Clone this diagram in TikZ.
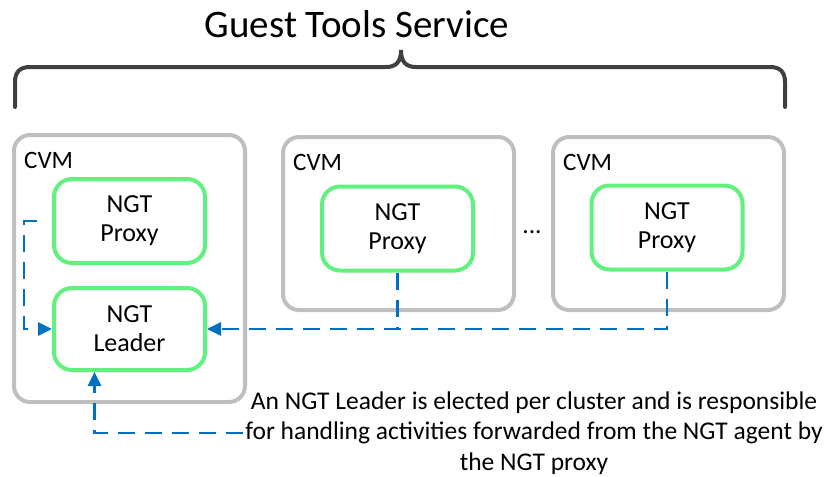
\documentclass[tikz,border=0pt]{standalone}
\usepackage{fontspec}
\setmainfont{Carlito}
\usepackage{xcolor}
\definecolor{cvmgray}{HTML}{BFBFBF}
\definecolor{ngtgreen}{HTML}{62F07F}
\definecolor{flowblue}{HTML}{0070C0}
\definecolor{bracegray}{HTML}{404040}
\usepackage{tikz}
\usetikzlibrary{arrows.meta, positioning, calc}

\begin{document}
\begin{tikzpicture}[x=1pt, y=-1pt, >={Triangle[length=14pt, width=13pt]},
  cvmbox/.style={draw=cvmgray, line width=4pt, rounded corners=16pt,
        outer sep=0pt, minimum width=231pt},
  ngtbox/.style={draw=ngtgreen, fill=white, line width=4pt, rounded corners=18pt,
        minimum width=151pt, minimum height=84pt, align=center,
        font=\fontsize{26}{29}\selectfont},
  lbl/.style={font=\fontsize{25.5}{30.5}\selectfont},
  flow/.style={draw=flowblue, line width=2.8pt, dash pattern=on 17pt off 10pt}]
  \useasboundingbox (0,0) rectangle (831,477);

  \node[font=\fontsize{39}{46}\selectfont, anchor=base] (title) at (357,37)
        {Guest Tools Service};

  \draw[bracegray, line width=4pt, line cap=round]
    (15,107) -- (15,82) .. controls (15,72) and (20,67) .. (30,67) -- (386,67)
    .. controls (396,67) and (401,62) .. (401,50)
    .. controls (401,62) and (406,67) .. (416,67) -- (770,67)
    .. controls (780,67) and (785,72) .. (785,82) -- (785,107);

  % CVMs
  \node[cvmbox, minimum height=267pt] (cvmA) at (129.5,268.5) {};
  \node[cvmbox, minimum height=173pt] (cvmB) at (398.5,223.5) {};
  \node[cvmbox, minimum height=173pt] (cvmC) at (668.5,223.5) {};

  \node[lbl, font=\fontsize{25}{30}\selectfont, inner sep=0pt, anchor=base west]
        (cvmlabelA) at ($(cvmA.north west)+(10,33)$) {CVM};
  \node[lbl, font=\fontsize{25}{30}\selectfont, inner sep=0pt, anchor=base west]
        (cvmlabelB) at ($(cvmB.north west)+(10,33)$) {CVM};
  \node[lbl, font=\fontsize{25}{30}\selectfont, inner sep=0pt, anchor=base west]
        (cvmlabelC) at ($(cvmC.north west)+(10,33)$) {CVM};

  \node[lbl] (dots) at (532,232) {...};

  % NGT services
  \node[ngtbox] (proxyA) at (129.5,221) {NGT\\Proxy};
  \node[ngtbox, minimum height=82pt] (leaderA) at (129.5,329) {NGT\\Leader};
  \node[ngtbox] (proxyB) at (397.5,228.5) {NGT\\Proxy};
  \node[ngtbox] (proxyC) at (667,227.5) {NGT\\Proxy};

  \node[lbl, align=center, inner sep=0pt] (note) at (534,433)
        {An NGT Leader is elected per cluster and is responsible\\
         for handling activities forwarded from the NGT agent by\\
         the NGT proxy};

  % forwarding to the leader
  \draw[flow, ->, shorten <=15pt] (proxyA.west) -- ++(-28,0) |- (leaderA.west);
  \draw[flow] (proxyB.south) -- (proxyB.south |- leaderA.east);
  \draw[flow, ->] (proxyC.south) |- (leaderA.east);
  \draw[flow, ->] ([xshift=-2pt]note.west) -| ($(leaderA.south)+(-35,0)$);
\end{tikzpicture}
\end{document}
